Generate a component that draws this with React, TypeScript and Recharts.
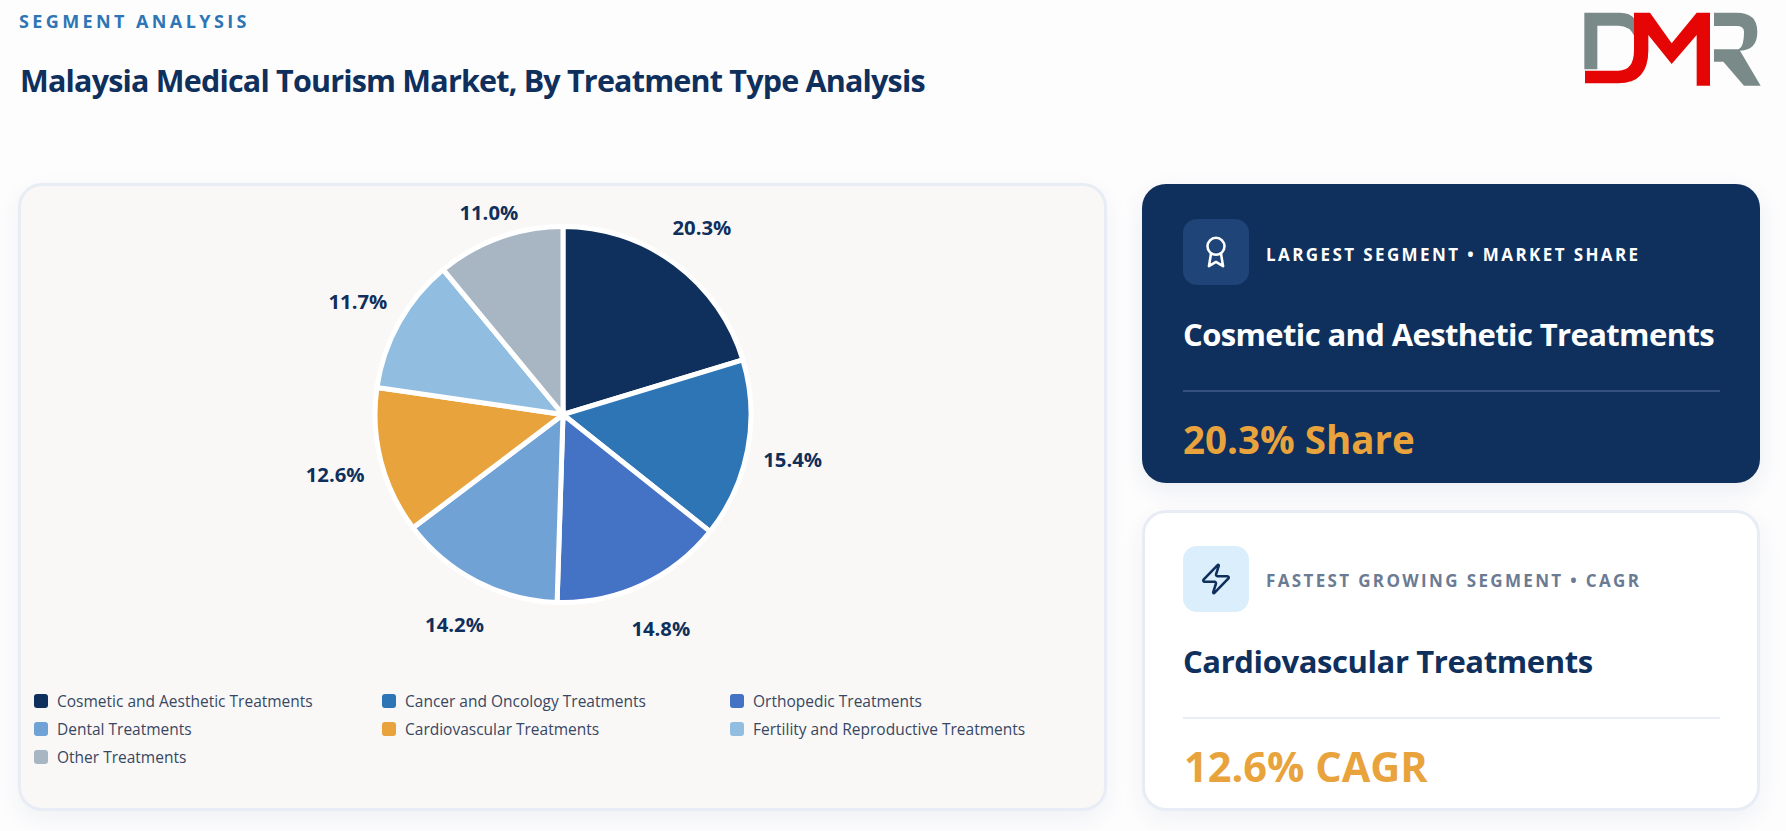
import React from 'react';
import { PieChart, Pie, Legend } from 'recharts';

const segmentNames = ['Cosmetic and Aesthetic Treatments','Cancer and Oncology Treatments','Orthopedic Treatments','Dental Treatments','Cardiovascular Treatments','Fertility and Reproductive Treatments','Other Treatments'];
const segmentShares = [20.3,15.4,14.8,14.2,12.6,11.7,11.0];
const segmentColors = ['#0f2f5c','#2e75b6','#4472c4','#70a2d5','#e8a33d','#90bde0','#a8b5c2'];
const chartData = segmentNames.map((name,i)=>({name,value:segmentShares[i],fill:segmentColors[i]}));

const FONT = '"Open Sans", "Noto Sans", sans-serif';
const NAVY = '#0f2f5c';
const GOLD = '#e8a33d';

const abs = (left:number, top:number, extra:any={}) => ({position:'absolute' as const,left,top,...extra});

const T = ({x,base,size,weight=700,color,ls=0,children}:any) => (
  <div style={{position:'absolute',left:x,top:base-size,lineHeight:`${size*1.25}px`,height:size*1.25,fontSize:size,fontWeight:weight,color,letterSpacing:ls,whiteSpace:'nowrap',fontFamily:FONT}}>{children}</div>
);

const LABEL_MIN_Y = 27.5;
const renderLabel = (p:any) => {
  const a = -p.midAngle*Math.PI/180;
  let r = p.outerRadius+46.5;
  const raw = p.cy+r*Math.sin(a);
  if (raw < LABEL_MIN_Y) r = (LABEL_MIN_Y-p.cy)/Math.sin(a);
  return <text x={p.cx+r*Math.cos(a)-0.7} y={p.cy+r*Math.sin(a)+1} textAnchor="middle" dominantBaseline="central" fontSize={20.3} fontWeight={700} fill={NAVY} fontFamily={FONT}>{p.value.toFixed(1)}%</text>;
};

const LegendContent = ({payload}:any) => (
  <div style={{display:'grid',gridTemplateColumns:'348px 348px 348px',gridAutoRows:'28px',fontFamily:FONT}}>
    {(payload||[]).map((e:any)=>(
      <div key={e.value} style={{display:'flex',alignItems:'center',height:28}}>
        <span style={{width:14,height:14,borderRadius:3,background:e.color,marginRight:9,flex:'none'}}/>
        <span style={{fontSize:15.5,fontWeight:500,color:'#374763',whiteSpace:'nowrap'}}>{e.value}</span>
      </div>
    ))}
  </div>
);

const Logo = () => (
  <svg style={abs(1540,0)} width={246} height={100} viewBox="0 0 738 300">
    <path fill="#7a8a88" d="M133 38H240Q270 38 284 56V110Q270 77 235 77H172V208H133Z"/>
    <path fill="#e60505" d="M282 38H330L395 130L470 38H510V257H470V105L395 192L325 105V150Q325 250 235 250H135V212H235Q282 212 282 150Z"/>
    <path fill="#7a8a88" d="M522 38H590Q652 38 652 95Q652 150 600 152L662 257H612L550 185H522V148H590Q612 148 612 95Q612 78 590 78H522Z"/>
  </svg>
);

export default function App(){
  return (
    <div style={{position:'absolute',left:0,top:0,width:1786,height:831,overflow:'hidden',background:'#fdfdfe',fontFamily:FONT}}>
      <T x={19} base={28} size={18} color="#2e75b6" ls={3.4}>SEGMENT ANALYSIS</T>
      <T x={20} base={91} size={30.5} color={NAVY} ls={-0.81}>Malaysia Medical Tourism Market, By Treatment Type Analysis</T>
      <Logo/>

      <div style={{...abs(18,183),width:1089,height:628,boxSizing:'border-box',background:'#faf8f6',border:'3px solid #e8edf5',borderRadius:24,boxShadow:'0 8px 24px rgba(15,47,92,0.06)'}}/>
      <div style={abs(18,183)}>
        <PieChart width={1089} height={628} margin={{top:0,right:0,bottom:0,left:0}}>
          <Pie data={chartData} dataKey="value" nameKey="name" cx={545} cy={231.5} outerRadius={188} startAngle={90} endAngle={-270} stroke="#ffffff" strokeWidth={5} label={renderLabel} labelLine={false} isAnimationActive={false}/>
          <Legend itemSorter={null} content={<LegendContent/>} wrapperStyle={{position:'absolute',left:16,top:504,width:1060,height:84}}/>
        </PieChart>
      </div>

      <div style={{...abs(1142,184),width:618,height:299,background:NAVY,borderRadius:24,boxShadow:'0 8px 24px rgba(15,47,92,0.08)'}}/>
      <div style={{...abs(1183,219),width:66,height:66,background:'#1e4478',borderRadius:14,display:'flex',alignItems:'center',justifyContent:'center'}}>
        <svg width={34} height={34} viewBox="0 0 24 24" fill="none" stroke="#fff" strokeWidth={1.8} strokeLinecap="round" strokeLinejoin="round"><circle cx="12" cy="8" r="6"/><path d="M15.477 12.89 17 22l-5-3-5 3 1.523-9.11"/></svg>
      </div>
      <T x={1266} base={260.5} size={17} color="#ffffff" ls={2.4}>LARGEST SEGMENT • MARKET SHARE</T>
      <T x={1183} base={346} size={31} color="#ffffff" ls={-0.62}>Cosmetic and Aesthetic Treatments</T>
      <div style={{...abs(1183,390),width:537,height:2,background:'#35527f'}}/>
      <T x={1183} base={453.5} size={38.5} color={GOLD}>20.3% Share</T>

      <div style={{...abs(1142,510),width:618,height:301,boxSizing:'border-box',background:'#ffffff',border:'3px solid #e8edf5',borderRadius:24,boxShadow:'0 8px 24px rgba(15,47,92,0.06)'}}/>
      <div style={{...abs(1183,546),width:66,height:66,background:'#dbeefb',borderRadius:14,display:'flex',alignItems:'center',justifyContent:'center'}}>
        <svg width={34} height={34} viewBox="0 0 24 24" fill="none" stroke={NAVY} strokeWidth={1.8} strokeLinecap="round" strokeLinejoin="round"><path d="M4 14a1 1 0 0 1-.78-1.63l9.9-10.2a.5.5 0 0 1 .86.46l-1.92 6.02A1 1 0 0 0 13 10h7a1 1 0 0 1 .78 1.63l-9.9 10.2a.5.5 0 0 1-.86-.46l1.92-6.02A1 1 0 0 0 11 14z"/></svg>
      </div>
      <T x={1266} base={586.5} size={17} color="#6b7b93" ls={2.35}>FASTEST GROWING SEGMENT • CAGR</T>
      <T x={1183} base={673} size={31} color={NAVY} ls={-0.4}>Cardiovascular Treatments</T>
      <div style={{...abs(1183,717),width:537,height:2,background:'#e8edf5'}}/>
      <T x={1184} base={782.5} size={41.5} color={GOLD}>12.6% CAGR</T>
    </div>
  );
}
